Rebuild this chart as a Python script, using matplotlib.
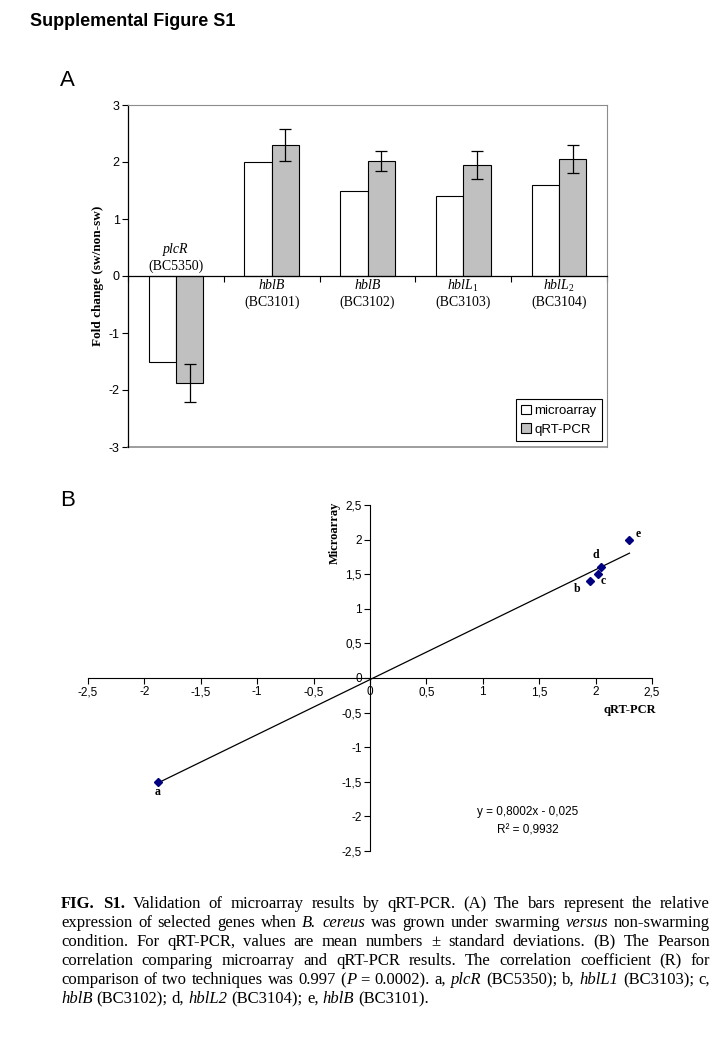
#!/usr/bin/env python3

import matplotlib
matplotlib.use("Agg")
import matplotlib.pyplot as plt
import numpy as np
from matplotlib.patches import Patch

plt.rcParams["font.family"] = ["Liberation Sans", "DejaVu Sans"]
plt.rcParams["axes.unicode_minus"] = False
plt.rcParams["mathtext.fontset"] = "custom"
plt.rcParams["mathtext.it"] = "Liberation Serif:italic"
plt.rcParams["mathtext.rm"] = "Liberation Serif"

# data
gene_names = ["plcR", "hblB", "hblB", r"$hblL_{\mathit{1}}$", r"$hblL_{\mathit{2}}$"]
gene_ids = ["(BC5350)", "(BC3101)", "(BC3102)", "(BC3103)", "(BC3104)"]
microarray = [-1.5, 2.0, 1.5, 1.4, 1.6]
qrtpcr = [-1.88, 2.3, 2.02, 1.95, 2.05]
qrtpcr_sd = [0.33, 0.28, 0.18, 0.25, 0.24]

point_labels = ["a", "e", "c", "b", "d"]
scatter_ticks = [-2.5, -2, -1.5, -1, -0.5, 0, 0.5, 1, 1.5, 2, 2.5]
scatter_ticklabels = ["-2,5", "-2", "-1,5", "-1", "-0,5", "0", "0,5", "1", "1,5", "2", "2,5"]

caption = [
    "#FIG. S1.# Validation of microarray results by qRT-PCR. (A) The bars represent the relative",
    "expression of selected genes when *B. cereus* was grown under swarming *versus* non-swarming",
    "condition. For qRT-PCR, values are mean numbers \u00b1 standard deviations. (B) The Pearson",
    "correlation comparing microarray and qRT-PCR results. The correlation coefficient (R) for",
    "comparison of two techniques was 0.997 (*P* = 0.0002). a, *plcR* (BC5350); b, *hblL1* (BC3103); c,",
    "*hblB* (BC3102); d, *hblL2* (BC3104); e, *hblB* (BC3101).",
]

W, H = 720, 1040
fig = plt.figure(figsize=(W / 100, H / 100), dpi=100)
grey = "#8c8c8c"

fig.text(30 / W, 1 - 21 / H, "Supplemental Figure S1", fontsize=13,
         fontweight="bold", va="center")
fig.text(60 / W, 1 - 80 / H, "A", fontsize=16, va="center")
fig.text(60 / W, 1 - 500 / H, "B", fontsize=16, va="center")

# ---- panel A: bars
ax1 = fig.add_axes([128 / W, 1 - 447 / H, 479 / W, 342 / H])
x = np.arange(len(microarray))
bw = 0.286
ax1.bar(x - bw / 2, microarray, bw, color="white", edgecolor="black", lw=0.8)
ax1.bar(x + bw / 2, qrtpcr, bw, color="#c0c0c0", edgecolor="black", lw=0.8,
        yerr=qrtpcr_sd, error_kw=dict(ecolor="black", elinewidth=0.9,
                                      capsize=4, capthick=0.9))
ax1.set_xlim(-0.5, len(x) - 0.5)
ax1.set_ylim(-3, 3)
ax1.set_yticks(np.arange(-3, 4))
ax1.set_xticks(np.arange(-0.5, len(x)))
ax1.set_xticklabels([])
ax1.spines["bottom"].set_position(("data", 0))
ax1.spines["bottom"].set_linewidth(0.9)
ax1.spines["left"].set_linewidth(0.9)
for s in ["top", "right"]:
    ax1.spines[s].set_color(grey)
    ax1.spines[s].set_linewidth(0.8)
ax1.axhline(-3, color=grey, lw=1.2, clip_on=False)
ax1.tick_params(axis="both", direction="out", length=4, width=0.8, labelsize=9)
ax1.tick_params(axis="y", pad=2)
ax1.set_ylabel("Fold change (sw/non-sw)", family="Liberation Serif",
               fontweight="bold", fontsize=9.5, labelpad=3)

for i in x:
    if microarray[i] < 0:
        y_name, y_id = 0.47, 0.17
    else:
        y_name, y_id = -0.17, -0.46
    ax1.text(i, y_name, gene_names[i], ha="center", va="center",
             family="Liberation Serif", style="italic", fontsize=10)
    ax1.text(i, y_id, gene_ids[i], ha="center", va="center",
             family="Liberation Serif", fontsize=10)

handles = [Patch(facecolor="white", edgecolor="black", lw=0.8),
           Patch(facecolor="#c0c0c0", edgecolor="black", lw=0.8)]
leg = ax1.legend(handles, ["microarray", "qRT-PCR"], loc="lower right",
                 bbox_to_anchor=(0.995, 0.01), fontsize=9.5, fancybox=False,
                 framealpha=1, edgecolor="black", handlelength=0.7,
                 handleheight=0.7, handletextpad=0.3, borderpad=0.4,
                 labelspacing=0.5, borderaxespad=0.2)
leg.get_frame().set_linewidth(0.8)

# ---- panel B: correlation
ax2 = fig.add_axes([88 / W, 1 - 851 / H, 564 / W, 346 / H])
xs = np.array([qrtpcr[0], qrtpcr[1], qrtpcr[2], qrtpcr[3], qrtpcr[4]])
ys = np.array([microarray[0], microarray[1], microarray[2], microarray[3], microarray[4]])
slope, icept = np.polyfit(xs, ys, 1)
xl = np.array([xs.min(), xs.max()])
ax2.plot(xl, slope * xl + icept, color="black", lw=0.9)
ax2.plot(xs, ys, "D", color="#000080", ms=4.5, ls="none")

offsets = {"a": (0, -7), "b": (-9, -6), "c": (4, -5), "d": (-4, 9), "e": (6, 4)}
for lab, px, py in zip(point_labels, xs, ys):
    ax2.annotate(lab, (px, py), xytext=offsets[lab], textcoords="offset points",
                 ha="center", va="center", family="Liberation Serif",
                 fontweight="bold", fontsize=8.5)

ax2.set_xlim(-2.5, 2.5)
ax2.set_ylim(-2.5, 2.5)
ax2.spines["left"].set_position(("data", 0))
ax2.spines["bottom"].set_position(("data", 0))
ax2.spines["top"].set_visible(False)
ax2.spines["right"].set_visible(False)
ax2.set_xticks(scatter_ticks)
ax2.set_xticklabels(scatter_ticklabels)
ax2.set_yticks(scatter_ticks)
ax2.set_yticklabels(scatter_ticklabels)
ax2.tick_params(axis="both", direction="out", length=4, width=0.8,
                labelsize=8.5, pad=2)

fig.text(335 / W, 1 - 533 / H, "Microarray", rotation=90, ha="center",
         va="center", family="Liberation Serif", fontweight="bold", fontsize=9)
fig.text(656 / W, 1 - 710 / H, "qRT-PCR", ha="right", va="center",
         family="Liberation Serif", fontweight="bold", fontsize=9)
ax2.text(1.4, -1.94, "y = 0,8002x - 0,025", ha="center", va="center", fontsize=8.5)
ax2.text(1.4, -2.2, "R\u00b2 = 0,9932", ha="center", va="center", fontsize=8.5)


# ---- caption, justified
def parse(line):
    words, cur, buf, style = [], [], "", "normal"
    for ch in line:
        if ch in "*#":
            if buf:
                cur.append((buf, style))
                buf = ""
            new = "italic" if ch == "*" else "bold"
            style = "normal" if style == new else new
        elif ch == " ":
            if buf:
                cur.append((buf, style))
                buf = ""
            if cur:
                words.append(cur)
                cur = []
        else:
            buf += ch
    if buf:
        cur.append((buf, style))
    if cur:
        words.append(cur)
    return words


renderer = fig.canvas.get_renderer()
cap_size = 12
x0, x1 = 61, 710
base0, step = 908, 19
space = 0.25 * cap_size * 100 / 72
for i, line in enumerate(caption):
    words = parse(line)
    placed = []
    for w in words:
        parts = []
        for txt, st in w:
            t = fig.text(0, 0, txt, fontsize=cap_size, family="Liberation Serif",
                         style="italic" if st == "italic" else "normal",
                         fontweight="bold" if st == "bold" else "normal",
                         va="baseline", ha="left")
            parts.append((t, t.get_window_extent(renderer).width))
        placed.append(parts)
    widths = [sum(p[1] for p in parts) for parts in placed]
    if i < len(caption) - 1:
        gap = (x1 - x0 - sum(widths)) / (len(widths) - 1)
    else:
        gap = space
    xpos = x0
    for parts, wd in zip(placed, widths):
        xx = xpos
        for t, tw in parts:
            t.set_position((xx / W, 1 - (base0 + i * step) / H))
            xx += tw
        xpos += wd + gap

fig.savefig("out.png", dpi=100)
